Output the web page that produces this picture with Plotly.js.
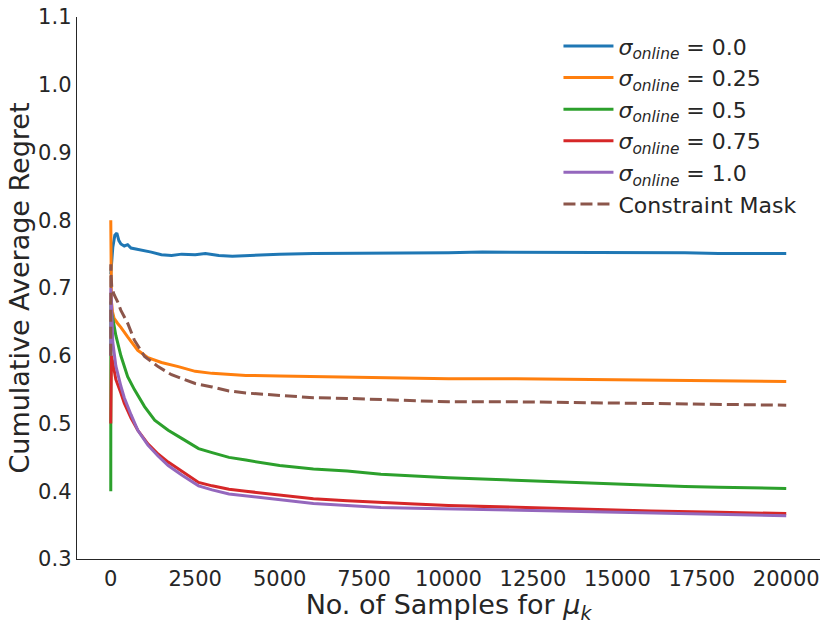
<!DOCTYPE html>
<html>
<head>
<meta charset="utf-8">
<script src="https://cdn.plot.ly/plotly-3.1.2.min.js"></script>
<style>
  html, body { margin: 0; padding: 0; background: #fff; }
  #regret-plot { width: 830px; height: 624px; }
</style>
</head>
<body>
<div id="regret-plot"></div>
<script>
// Values (cumulative average regret vs samples)
const sigma00X = [0, 60, 120, 180, 240, 300, 400, 500, 600, 800, 1000, 1200, 1500, 1800, 2100, 2500, 2800, 3200, 3600, 4000, 5000, 6000, 7000, 8000, 9000, 10000, 11000, 12000, 13000, 14000, 15000, 16000, 17000, 18000, 19000, 20000];
const sigma00Y = [0.72, 0.76, 0.778, 0.781, 0.770, 0.765, 0.762, 0.764, 0.759, 0.757, 0.756, 0.753, 0.749, 0.748, 0.750, 0.749, 0.751, 0.748, 0.747, 0.748, 0.750, 0.751, 0.751, 0.752, 0.752, 0.752, 0.753, 0.753, 0.753, 0.752, 0.752, 0.752, 0.752, 0.751, 0.751, 0.751];

const sigma025X = [0, 5, 20, 50, 100, 200, 300, 500, 800, 1100, 1500, 2000, 2500, 3000, 3500, 4000, 5000, 6000, 7000, 8000, 10000, 12000, 14000, 16000, 18000, 20000];
const sigma025Y = [0.80, 0.72, 0.68, 0.665, 0.655, 0.648, 0.642, 0.628, 0.608, 0.597, 0.590, 0.584, 0.577, 0.574, 0.572, 0.571, 0.570, 0.569, 0.568, 0.567, 0.566, 0.566, 0.565, 0.564, 0.563, 0.562];

const sigma05X = [0, 2, 5, 20, 60, 150, 300, 500, 700, 1000, 1300, 1700, 2100, 2600, 3000, 3500, 4000, 5000, 6000, 7000, 8000, 9000, 10000, 11000, 12000, 13000, 14000, 15000, 16000, 17000, 18000, 19000, 20000];
const sigma05Y = [0.40, 0.68, 0.65, 0.665, 0.655, 0.630, 0.600, 0.569, 0.550, 0.525, 0.505, 0.490, 0.478, 0.463, 0.457, 0.450, 0.446, 0.438, 0.433, 0.430, 0.425, 0.422, 0.420, 0.418, 0.416, 0.414, 0.412, 0.410, 0.409, 0.407, 0.406, 0.405, 0.404];

const sigma075X = [0, 2, 5, 20, 60, 150, 300, 400, 600, 800, 1100, 1400, 1700, 2100, 2600, 3000, 3500, 4000, 5000, 6000, 7000, 8000, 9000, 10000, 12000, 14000, 16000, 18000, 20000];
const sigma075Y = [0.50, 0.60, 0.58, 0.60, 0.59, 0.565, 0.545, 0.53, 0.508, 0.49, 0.47, 0.455, 0.443, 0.430, 0.413, 0.408, 0.403, 0.400, 0.394, 0.389, 0.386, 0.383, 0.381, 0.379, 0.376, 0.373, 0.371, 0.369, 0.367];

const sigma10X = [0, 2, 5, 20, 60, 150, 300, 400, 600, 800, 1100, 1400, 1700, 2100, 2600, 3000, 3500, 4000, 5000, 6000, 7000, 8000, 9000, 10000, 12000, 14000, 16000, 18000, 20000];
const sigma10Y = [0.60, 0.70, 0.66, 0.68, 0.62, 0.585, 0.555, 0.538, 0.513, 0.49, 0.468, 0.452, 0.438, 0.424, 0.408, 0.402, 0.396, 0.393, 0.387, 0.382, 0.379, 0.376, 0.375, 0.374, 0.372, 0.370, 0.368, 0.366, 0.364];

const maskX = [0, 2, 5, 10, 30, 60, 100, 200, 300, 500, 700, 1000, 1400, 1800, 2500, 3000, 3500, 4000, 5000, 6000, 7000, 8000, 9000, 10000, 12000, 14000, 16000, 18000, 20000];
const maskY = [0.60, 0.735, 0.70, 0.72, 0.70, 0.695, 0.69, 0.68, 0.667, 0.648, 0.623, 0.599, 0.584, 0.572, 0.559, 0.554, 0.548, 0.545, 0.541, 0.538, 0.537, 0.535, 0.533, 0.532, 0.532, 0.531, 0.530, 0.529, 0.527];

const seriesNames = ["0.0", "0.25", "0.5", "0.75", "1.0"];
const seriesColors = ["#1f77b4", "#ff7f0e", "#2ca02c", "#d62728", "#9467bd"];
const xTicks = [0, 2500, 5000, 7500, 10000, 12500, 15000, 17500, 20000];
const yTicks = [0.3, 0.4, 0.5, 0.6, 0.7, 0.8, 0.9, 1.0, 1.1];

const textColor = "#262626";
const font = "DejaVu Sans";

const sigmaX = [sigma00X, sigma025X, sigma05X, sigma075X, sigma10X];
const sigmaY = [sigma00Y, sigma025Y, sigma05Y, sigma075Y, sigma10Y];

const plotData = seriesNames.map((name, ind) => ({
  x: sigmaX[ind],
  y: sigmaY[ind],
  name: `<i>σ</i><sub><i>online</i></sub> = ${name}`,
  mode: "lines",
  line: { color: seriesColors[ind], width: 3 },
}));

plotData.push({
  x: maskX,
  y: maskY,
  name: "Constraint Mask",
  mode: "lines",
  line: { color: "#8c564b", width: 3, dash: "12px,5px" },
});

const layout = {
  width: 830,
  height: 624,
  margin: { l: 77, r: 10, t: 17, b: 65 },
  paper_bgcolor: "#fff",
  plot_bgcolor: "#fff",
  font: { family: font, color: textColor, size: 21 },
  showlegend: true,
  legend: {
    x: 0.648,
    xanchor: "left",
    y: 0.985,
    yanchor: "top",
    itemwidth: 50,
    bgcolor: "rgba(0,0,0,0)",
    font: { family: font, size: 22, color: textColor },
  },
  xaxis: {
    range: [-1000, 21000],
    tickvals: xTicks,
    ticktext: xTicks.map(String),
    showgrid: false,
    zeroline: false,
    showline: true,
    linecolor: textColor,
    linewidth: 1.3,
    ticks: "",
    tickfont: { family: font, size: 21, color: textColor },
    title: {
      text: "No. of Samples for <i>μ</i><sub><i>k</i></sub>",
      font: { family: font, size: 27, color: textColor },
      standoff: 6,
    },
  },
  yaxis: {
    range: [0.3, 1.1],
    tickvals: yTicks,
    ticktext: yTicks.map((v) => v.toFixed(1)),
    showgrid: false,
    zeroline: false,
    showline: true,
    linecolor: textColor,
    linewidth: 1.3,
    ticks: "",
    tickfont: { family: font, size: 21, color: textColor },
    title: {
      text: "Cumulative Average Regret",
      font: { family: font, size: 27, color: textColor },
      standoff: 0,
    },
  },
};

Plotly.newPlot("regret-plot", plotData, layout, { displayModeBar: false, staticPlot: true });
</script>
</body>
</html>
